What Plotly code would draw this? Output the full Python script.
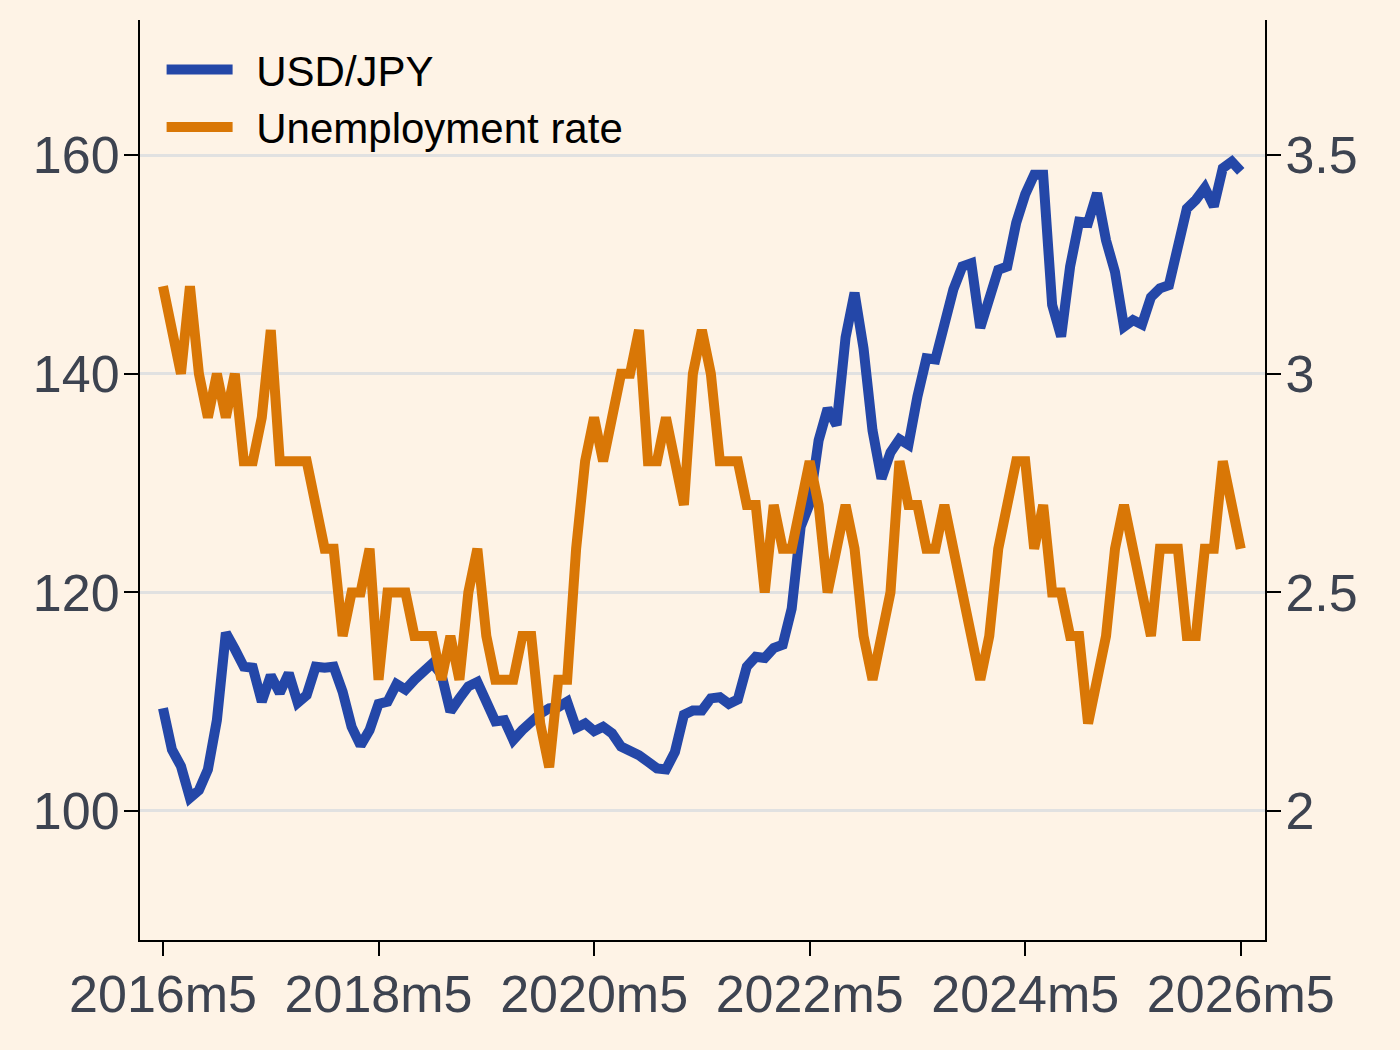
import plotly.graph_objects as go

# Months since 2016m5 (monthly observations, 2016m5 .. 2026m5)
start_year, start_month = 2016, 5
n_months = 121
month_index = list(range(n_months))

usd_jpy = [
    109.4, 105.6, 104.1, 101.2, 101.9, 103.8, 108.3, 116.3, 114.8, 113.2,
    113.1, 110.0, 112.4, 110.8, 112.6, 109.9, 110.6, 113.2, 113.1, 113.2,
    110.9, 107.7, 106.0, 107.4, 109.8, 110.0, 111.6, 111.1, 112.0, 112.9,
    113.5, 112.5, 109.1, 110.3, 111.4, 111.8, 110.0, 108.2, 108.3, 106.5,
    107.4, 108.2, 108.9, 109.4, 109.5, 110.0, 107.6, 108.0, 107.3, 107.7,
    107.1, 105.9, 105.6, 105.1, 104.5, 103.9, 103.8, 105.4, 108.8, 109.2,
    109.2, 110.3, 110.4, 109.8, 110.2, 113.2, 114.1, 114.0, 114.9, 115.2,
    118.5, 126.0, 128.1, 133.9, 136.8, 135.3, 143.3, 147.4, 142.3, 134.8,
    130.4, 132.8, 134.0, 133.5, 137.9, 141.4, 141.3, 145.0, 147.7, 149.8,
    150.1, 144.2, 146.9, 149.5, 149.8, 153.8, 156.4, 158.2, 158.2, 146.3,
    143.4, 149.8, 153.9, 153.8, 156.5, 152.2, 149.3, 144.3, 144.9, 144.5,
    147.0, 147.8, 148.1, 151.5, 155.1, 155.9, 157.0, 155.3, 158.8, 159.4,
    158.5,
]

unemployment = [
    3.2, 3.1, 3.0, 3.2, 3.0, 2.9, 3.0, 2.9, 3.0, 2.8,
    2.8, 2.9, 3.1, 2.8, 2.8, 2.8, 2.8, 2.7, 2.6, 2.6,
    2.4, 2.5, 2.5, 2.6, 2.3, 2.5, 2.5, 2.5, 2.4, 2.4,
    2.4, 2.3, 2.4, 2.3, 2.5, 2.6, 2.4, 2.3, 2.3, 2.3,
    2.4, 2.4, 2.2, 2.1, 2.3, 2.3, 2.6, 2.8, 2.9, 2.8,
    2.9, 3.0, 3.0, 3.1, 2.8, 2.8, 2.9, 2.8, 2.7, 3.0,
    3.1, 3.0, 2.8, 2.8, 2.8, 2.7, 2.7, 2.5, 2.7, 2.6,
    2.6, 2.7, 2.8, 2.7, 2.5, 2.6, 2.7, 2.6, 2.4, 2.3,
    2.4, 2.5, 2.8, 2.7, 2.7, 2.6, 2.6, 2.7, 2.6, 2.5,
    2.4, 2.3, 2.4, 2.6, 2.7, 2.8, 2.8, 2.6, 2.7, 2.5,
    2.5, 2.4, 2.4, 2.2, 2.3, 2.4, 2.6, 2.7, 2.6, 2.5,
    2.4, 2.6, 2.6, 2.6, 2.4, 2.4, 2.6, 2.6, 2.8, 2.7,
    2.6,
]

month_labels = []
for k in month_index:
    y = start_year + (start_month - 1 + k) // 12
    m = (start_month - 1 + k) % 12 + 1
    month_labels.append(f"{y}m{m}")

x_tick_vals = [0, 24, 48, 72, 96, 120]
x_tick_text = [month_labels[v] for v in x_tick_vals]
left_ticks = [100, 120, 140, 160]
right_ticks = [2, 2.5, 3, 3.5]
right_tick_text = ["2", "2.5", "3", "3.5"]
series_names = ["USD/JPY", "Unemployment rate"]

BLUE = "#2447A8"
ORANGE = "#D97706"
BG = "#FEF3E6"
TICK_COLOR = "#3D4350"
FONT = "Arial, Liberation Sans, sans-serif"
GAP = "\u00a0\u2006"

fig = go.Figure()
fig.add_trace(go.Scatter(
    x=month_index, y=usd_jpy, name=GAP + series_names[0], mode="lines",
    line=dict(color=BLUE, width=10), yaxis="y",
))
fig.add_trace(go.Scatter(
    x=month_index, y=unemployment, name=GAP + series_names[1], mode="lines",
    line=dict(color=ORANGE, width=10), yaxis="y2",
))

axis_common = dict(
    ticks="outside", ticklen=14, tickwidth=2, tickcolor="#000000",
    showline=True, linecolor="#000000", linewidth=2,
    zeroline=False, ticklabelstandoff=-6,
    tickfont=dict(size=52, color=TICK_COLOR, family=FONT),
)

fig.update_layout(
    width=1400, height=1050,
    paper_bgcolor=BG, plot_bgcolor=BG,
    margin=dict(l=140, r=135, t=20, b=110),
    font=dict(family=FONT, color=TICK_COLOR),
    showlegend=True,
    legend=dict(
        x=0.0192, y=0.983, xanchor="left", yanchor="top",
        bgcolor="rgba(0,0,0,0)", borderwidth=0,
        font=dict(size=42, color="#000000", family=FONT),
        itemwidth=66, tracegroupgap=0,
    ),
    xaxis=dict(
        range=[-2.56, 122.7], tickmode="array",
        tickvals=x_tick_vals, ticktext=x_tick_text,
        showgrid=False, **axis_common,
    ),
    yaxis=dict(
        range=[88.2, 172.35], tickmode="array", tickvals=left_ticks,
        showgrid=True, gridcolor="#E1E1E1", gridwidth=2.5,
        **axis_common,
    ),
    yaxis2=dict(
        range=[1.705, 3.809], tickmode="array", tickvals=right_ticks,
        ticktext=right_tick_text,
        overlaying="y", side="right",
        showgrid=False, **axis_common,
    ),
)

fig.write_html("out.html")
